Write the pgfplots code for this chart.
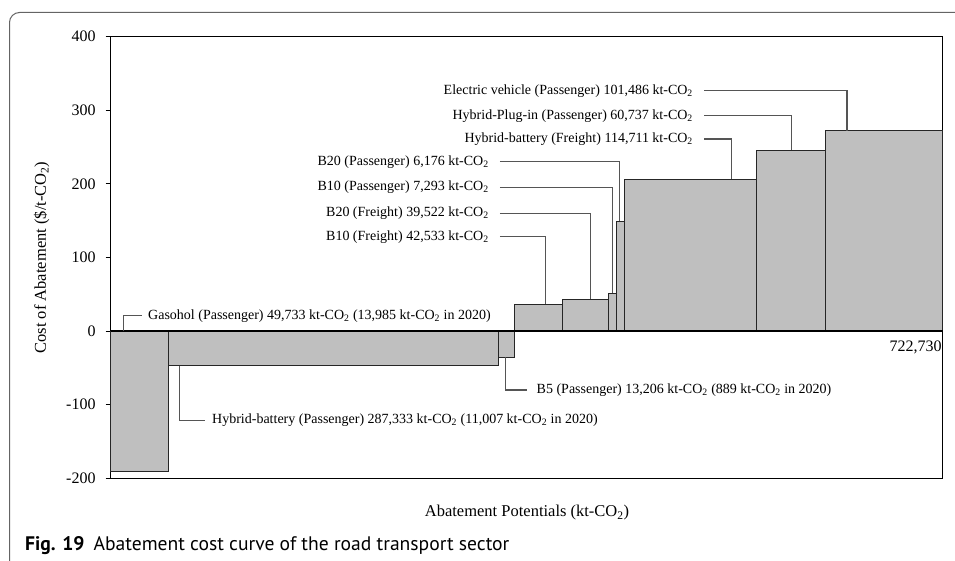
\documentclass[border=0pt]{standalone}
\usepackage{fontspec}
\setmainfont{Liberation Serif}
\newfontfamily\capfont{PT Sans}
\usepackage{pgfplots}
\pgfplotsset{compat=1.18}
\definecolor{barfill}{RGB}{191,191,191}
\definecolor{leader}{RGB}{85,85,85}
\definecolor{framegray}{RGB}{100,100,100}

\begin{document}
\begin{tikzpicture}[x=1pt,y=1pt,
  mbar/.style={fill=barfill, draw=black!85, line width=0.8pt},
  lead/.style={leader, line width=1.2pt},
  lab/.style={font=\fontsize{14}{14}\selectfont, inner sep=0pt}]
\path[use as bounding box] (0,0) rectangle (955,560);
\draw[framegray, line width=1pt, rounded corners=10pt] (9.5,-5) -- (9.5,547.5) -- (975,547.5);
\begin{axis}[
  at={(110.7pt,82pt)}, anchor=south west,
  width=832pt, height=441.3pt, scale only axis,
  xmin=0, xmax=722730, ymin=-200, ymax=400,
  xtick=\empty,
  ytick={-200,-100,0,100,200,300,400},
  yticklabels={-200,-100,0,100,200,300,400},
  ytick pos=left,
  tick align=outside, major tick length=5pt,
  tick style={black, line width=0.8pt},
  yticklabel style={font=\fontsize{16}{16}\selectfont, inner sep=0pt, xshift=-10pt},
  axis line style={black, line width=1pt},
  clip=false,
]
% bars: cumulative potential (kt-CO2) vs cost ($/t-CO2)
\addplot[mbar] coordinates {(0,0) (0,-191.4) (49733,-191.4) (49733,0)} -- cycle;
\addplot[mbar] coordinates {(49733,0) (49733,-47.3) (337066,-47.3) (337066,0)} -- cycle;
\addplot[mbar] coordinates {(337066,0) (337066,-35.9) (350272,-35.9) (350272,0)} -- cycle;
\addplot[mbar] coordinates {(350272,0) (350272,36.6) (392805,36.6) (392805,0)} -- cycle;
\addplot[mbar] coordinates {(392805,0) (392805,43.4) (432327,43.4) (432327,0)} -- cycle;
\addplot[mbar] coordinates {(432327,0) (432327,51.5) (439620,51.5) (439620,0)} -- cycle;
\addplot[mbar] coordinates {(439620,0) (439620,149.4) (445796,149.4) (445796,0)} -- cycle;
\addplot[mbar] coordinates {(445796,0) (445796,206.5) (560507,206.5) (560507,0)} -- cycle;
\addplot[mbar] coordinates {(560507,0) (560507,245.5) (621244,245.5) (621244,0)} -- cycle;
\addplot[mbar] coordinates {(621244,0) (621244,272.2) (722730,272.2) (722730,0)} -- cycle;
\addplot[black, line width=1.2pt] coordinates {(0,0) (722730,0)};

% leader lines
\addplot[lead] coordinates {(11290,0) (11290,20.7) (26920,20.7)};
\addplot[lead] coordinates {(59570,-47.3) (59570,-121.5) (81890,-121.5)};
\addplot[lead] coordinates {(343260,-35.9) (343260,-80.4) (361760,-80.4)};
\addplot[lead] coordinates {(338050,230.0) (441640,230.0) (441640,149.4)};
\addplot[lead] coordinates {(338050,195.2) (435560,195.2) (435560,51.5)};
\addplot[lead] coordinates {(338050,159.9) (416460,159.9) (416460,43.4)};
\addplot[lead] coordinates {(338050,128.1) (378000,128.1) (378000,36.6)};
\addplot[lead] coordinates {(515450,326.6) (639630,326.6) (639630,272.2)};
\addplot[lead] coordinates {(515450,292.6) (591340,292.6) (591340,245.5)};
\addplot[lead] coordinates {(515450,260.9) (539250,260.9) (539250,206.5)};

\node[lab, anchor=west] at (axis cs:32400,20.7) {Gasohol (Passenger) 49,733 kt-CO\textsubscript{2} (13,985 kt-CO\textsubscript{2} in 2020)};
\node[lab, anchor=west] at (axis cs:88000,-121.5) {Hybrid-battery (Passenger) 287,333 kt-CO\textsubscript{2} (11,007 kt-CO\textsubscript{2} in 2020)};
\node[lab, anchor=west] at (axis cs:369900,-80.4) {B5 (Passenger) 13,206 kt-CO\textsubscript{2} (889 kt-CO\textsubscript{2} in 2020)};
\node[lab, anchor=east] at (axis cs:328500,230.0) {B20 (Passenger) 6,176 kt-CO\textsubscript{2}};
\node[lab, anchor=east] at (axis cs:328500,195.2) {B10 (Passenger) 7,293 kt-CO\textsubscript{2}};
\node[lab, anchor=east] at (axis cs:328500,159.9) {B20 (Freight) 39,522 kt-CO\textsubscript{2}};
\node[lab, anchor=east] at (axis cs:328500,128.1) {B10 (Freight) 42,533 kt-CO\textsubscript{2}};
\node[lab, anchor=east] at (axis cs:505900,326.6) {Electric vehicle (Passenger) 101,486 kt-CO\textsubscript{2}};
\node[lab, anchor=east] at (axis cs:505900,292.6) {Hybrid-Plug-in (Passenger) 60,737 kt-CO\textsubscript{2}};
\node[lab, anchor=east] at (axis cs:505900,260.9) {Hybrid-battery (Freight) 114,711 kt-CO\textsubscript{2}};
\node[font=\fontsize{16}{16}\selectfont, anchor=east, inner sep=1pt] at (axis cs:722730,-22.6) {722,730};
\end{axis}
\node[anchor=base, font=\fontsize{16.5}{16.5}\selectfont] at (527,43.3) {Abatement Potentials (kt-CO\textsubscript{2})};
\node[rotate=90, font=\fontsize{16.5}{16.5}\selectfont] at (41.7,302.5) {Cost of Abatement (\$/t-CO\textsubscript{2})};
\node[anchor=base west, inner sep=0pt, font=\capfont\fontsize{19.6}{19.6}\selectfont] at (25,10) {\textbf{Fig. 19}\hspace{9pt}Abatement cost curve of the road transport sector};
\end{tikzpicture}
\end{document}
